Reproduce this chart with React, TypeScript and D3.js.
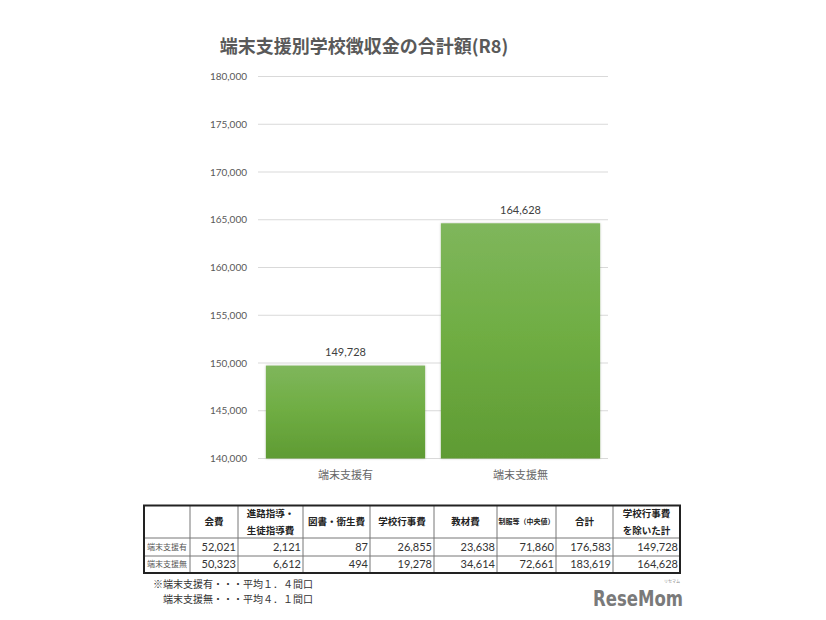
import React from 'react';
import * as d3 from 'd3';

const chartTitle = '端末支援別学校徴収金の合計額(R8)';
const categories = ['端末支援有', '端末支援無'];
const totals = [149728, 164628];
const yTickValues = [140000, 145000, 150000, 155000, 160000, 165000, 170000, 175000, 180000];

const tableHeaders = [
  [''],
  ['会費'],
  ['進路指導・', '生徒指導費'],
  ['図書・衛生費'],
  ['学校行事費'],
  ['教材費'],
  ['制服等（中央値）'],
  ['合計'],
  ['学校行事費', 'を除いた計'],
];
const withSupport = [52021, 2121, 87, 26855, 23638, 71860, 176583, 149728];
const withoutSupport = [50323, 6612, 494, 19278, 34614, 72661, 183619, 164628];
const tableRows = [withSupport, withoutSupport];

const footnotes = ['※端末支援有・・・平均１．４間口', '端末支援無・・・平均４．１間口'];

const JP = '"Noto Sans CJK JP", "Noto Sans", sans-serif';
const NUM = 'Lato, "Open Sans", sans-serif';

export default function App() {
  const width = 826;
  const height = 620;
  const plot = { left: 258, right: 608, top: 76.5, bottom: 458.5 };

  const x = d3.scaleBand<string>()
    .domain(categories)
    .range([plot.left, plot.right])
    .paddingInner(0.09)
    .paddingOuter(0.045);

  const y = d3.scaleLinear()
    .domain([140000, 180000])
    .range([plot.bottom, plot.top]);

  const fmt = d3.format(',');

  // table layout
  const colEdges = [144, 190, 238, 303, 370, 434, 497, 556, 613, 680];
  const rowEdges = [505.5, 538, 556, 573];

  return (
    <svg width={width} height={height} style={{ position: 'absolute', left: 0, top: 0, background: '#fff' }}>
      <defs>
        <linearGradient id="barFill" x1="0" y1="0" x2="0" y2="1">
          <stop offset="0%" stopColor="#7fb65c" />
          <stop offset="45%" stopColor="#70ae44" />
          <stop offset="100%" stopColor="#5f9b33" />
        </linearGradient>
        <filter id="shadow" x="-5%" y="-5%" width="110%" height="110%">
          <feDropShadow dx="0" dy="0" stdDeviation="1" floodColor="#000" floodOpacity="0.25" />
        </filter>
      </defs>

      <text x={364} y={53} textAnchor="middle" fontFamily={JP} fontSize={18} fontWeight={700} fill="#595959">
        {chartTitle}
      </text>

      {/* gridlines + y ticks */}
      {yTickValues.map(t => (
        <g key={t}>
          <line x1={plot.left} x2={plot.right} y1={y(t)} y2={y(t)} stroke="#d9d9d9" strokeWidth={1} />
          <text x={247} y={y(t)} dy="0.35em" textAnchor="end" fontFamily={NUM} fontSize={10} fill="#595959">
            {fmt(t)}
          </text>
        </g>
      ))}

      {/* bars */}
      {categories.map((c, i) => (
        <g key={c}>
          <rect
            x={x(c)}
            y={y(totals[i])}
            width={x.bandwidth()}
            height={plot.bottom - y(totals[i])}
            fill="url(#barFill)"
            filter="url(#shadow)"
          />
          <text x={(x(c) ?? 0) + x.bandwidth() / 2} y={y(totals[i]) - 13} dy="0.35em" textAnchor="middle"
            fontFamily={NUM} fontSize={11} fill="#404040">
            {fmt(totals[i])}
          </text>
          <text x={(x(c) ?? 0) + x.bandwidth() / 2} y={475} dy="0.35em" textAnchor="middle"
            fontFamily={JP} fontSize={11} fill="#666">
            {c}
          </text>
        </g>
      ))}

      {/* table */}
      <g>
        {rowEdges.slice(1, -1).map(r => (
          <line key={r} x1={colEdges[0]} x2={colEdges[colEdges.length - 1]} y1={r} y2={r} stroke="#777" strokeWidth={1} />
        ))}
        {colEdges.slice(1, -1).map(cx => (
          <line key={cx} x1={cx} x2={cx} y1={rowEdges[0]} y2={rowEdges[rowEdges.length - 1]} stroke="#777" strokeWidth={1} />
        ))}
        <rect x={colEdges[0]} y={rowEdges[0]} width={colEdges[colEdges.length - 1] - colEdges[0]}
          height={rowEdges[rowEdges.length - 1] - rowEdges[0]} fill="none" stroke="#222" strokeWidth={2} />

        {tableHeaders.map((lines, j) => {
          const cx = (colEdges[j] + colEdges[j + 1]) / 2;
          const cy = (rowEdges[0] + rowEdges[1]) / 2;
          const small = lines[0] === '制服等（中央値）';
          return lines.map((s, k) => (
            <text key={`${j}-${k}`} x={cx} y={cy + (k - (lines.length - 1) / 2) * 17} dy="0.35em" textAnchor="middle"
              fontFamily={JP} fontSize={small ? 7 : 9.5} fontWeight={700} fill="#222">
              {s}
            </text>
          ));
        })}

        {tableRows.map((row, i) => {
          const cy = (rowEdges[i + 1] + rowEdges[i + 2]) / 2;
          return (
            <g key={i}>
              <text x={colEdges[0] + 3} y={cy} dy="0.35em" fontFamily={JP} fontSize={8} fill="#555">
                {categories[i]}
              </text>
              {row.map((v, j) => (
                <text key={j} x={colEdges[j + 2] - 2} y={cy} dy="0.35em" textAnchor="end"
                  fontFamily={NUM} fontSize={11} fill="#333">
                  {fmt(v)}
                </text>
              ))}
            </g>
          );
        })}
      </g>

      {/* footnotes */}
      <text x={153} y={588} fontFamily={JP} fontSize={10} fill="#333">{footnotes[0]}</text>
      <text x={163} y={602.5} fontFamily={JP} fontSize={10} fill="#333">{footnotes[1]}</text>

      {/* logo */}
      <text x={593} y={606} fontFamily='"DejaVu Sans", sans-serif' fontSize={21} fontWeight={700} fill="#7a7a7a"
        textLength={90} lengthAdjust="spacingAndGlyphs">
        ReseMom
      </text>
      <text x={672} y={583} textAnchor="middle" fontFamily={JP} fontSize={4} fill="#888">リセマム</text>
    </svg>
  );
}
